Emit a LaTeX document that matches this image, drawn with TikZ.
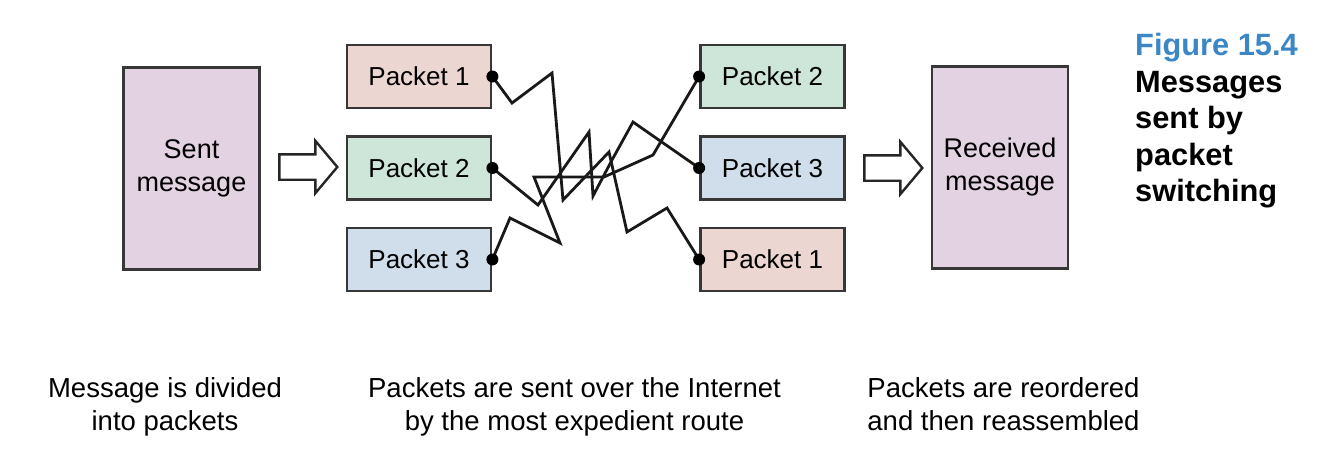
\documentclass[tikz,border=0pt]{standalone}
\usepackage{fontspec}
\setmainfont{Liberation Sans}
\usetikzlibrary{shapes.arrows}
\definecolor{msgpurple}{RGB}{226,210,226}
\definecolor{pktpink}{RGB}{236,214,210}
\definecolor{pktgreen}{RGB}{206,230,217}
\definecolor{pktblue}{RGB}{207,222,234}
\definecolor{figblue}{RGB}{59,135,198}
\definecolor{edge}{RGB}{55,55,55}
\begin{document}
\begin{tikzpicture}[x=1pt, y=-1pt]
	\tikzstyle{message}=[rectangle, draw=edge, line width=2.8pt, fill=msgpurple, minimum width=136, minimum height=202, align=center, font=\fontsize{27}{33}\selectfont]
	\tikzstyle{packet}=[rectangle, draw=edge, line width=2.8pt, minimum width=144, minimum height=63, font=\fontsize{26}{31}\selectfont]
	\tikzstyle{bigarrow}=[single arrow, draw=black!85, line width=2.4pt, fill=white, inner xsep=0pt, inner ysep=11.5pt, minimum height=58, single arrow head extend=13.5pt, single arrow tip angle=100]
	\tikzstyle{route}=[line width=2.8pt, black!90, line join=miter]
	\tikzstyle{note}=[align=center, anchor=north, inner sep=0pt, font=\fontsize{27.5}{33}\selectfont]
	\useasboundingbox (0, 0) rectangle (1340, 469);

	\draw node[message] at (191.5, 168.5) (sent) {Sent\\message};
	\draw node[bigarrow] at (303, 167) (split) {};
	\draw node[packet, fill=pktpink] at (419, 76.5) (p1l) {Packet 1};
	\draw node[packet, fill=pktgreen] at (419, 168) (p2l) {Packet 2};
	\draw node[packet, fill=pktblue] at (419, 259.5) (p3l) {Packet 3};

	\draw node[packet, fill=pktgreen] at (772.5, 76.5) (p2r) {Packet 2};
	\draw node[packet, fill=pktblue] at (772.5, 168) (p3r) {Packet 3};
	\draw node[packet, fill=pktpink] at (772.5, 259.5) (p1r) {Packet 1};
	\draw node[bigarrow] at (888, 168) (join) {};
	\draw node[message] at (1000, 167.5) (received) {Received\\message};

	% routes through the network
	\draw [route] (p1l.east) -- (512, 103) -- (552, 73) -- (563, 200) -- (609, 152) -- (627, 232) -- (667, 208) -- (p1r.west);
	\draw [route] (p2l.east) -- (538, 205) -- (589, 132) -- (593, 196) -- (612, 160) -- (633, 122) -- (p3r.west);
	\draw [route] (p3l.east) -- (510, 218) -- (560, 243) -- (534, 177) -- (604, 177) -- (653, 155) -- (p2r.west);
	\foreach \p in {p1l, p2l, p3l} \fill (\p.east) circle (6);
	\foreach \p in {p1r, p2r, p3r} \fill (\p.west) circle (6);

	\draw node[note] at (165, 377) (divide) {Message is divided\\into packets};
	\draw node[note] at (574.5, 377) (send) {Packets are sent over the Internet\\by the most expedient route};
	\draw node[note] at (1003.5, 377) (reorder) {Packets are reordered\\and then reassembled};

	\draw node[anchor=north west, inner sep=0pt, align=left, font=\fontsize{30.8}{36.5}\selectfont\bfseries] at (1135, 33) (caption) {\textcolor{figblue}{Figure 15.4}\\Messages\\sent by\\packet\\switching};
\end{tikzpicture}
\end{document}
